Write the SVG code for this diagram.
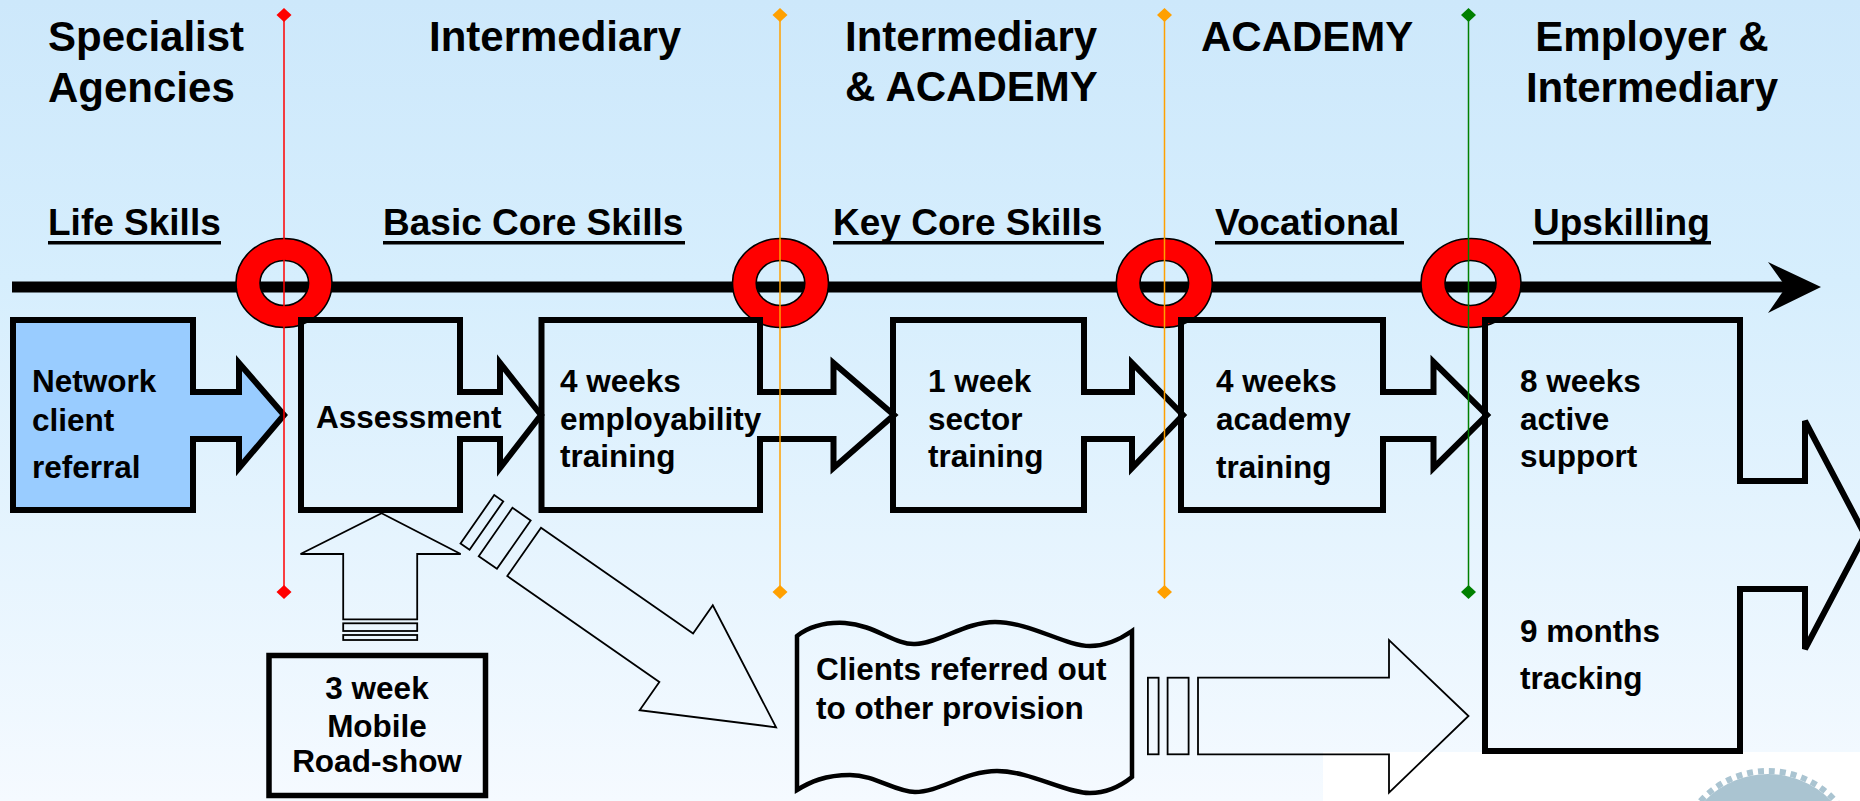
<svg xmlns="http://www.w3.org/2000/svg" width="1860" height="801" viewBox="0 0 1860 801">
<defs>
<linearGradient id="bg" x1="0" y1="0" x2="0" y2="801" gradientUnits="userSpaceOnUse">
<stop offset="0" stop-color="#cde8fb"/>
<stop offset="0.35" stop-color="#d6eefd"/>
<stop offset="1" stop-color="#f5faff"/>
</linearGradient>
<style>
.hd{font-family:"Liberation Sans",Arial,sans-serif;font-weight:bold;font-size:42px;fill:#000}
.sub{font-family:"Liberation Sans",Arial,sans-serif;font-weight:bold;font-size:37px;fill:#000}
.bx{font-family:"Liberation Sans",Arial,sans-serif;font-weight:bold;font-size:31.5px;fill:#000}
.box{fill:none;stroke:#000;stroke-width:6;stroke-linejoin:miter}
.thin{fill:none;stroke:#000;stroke-width:1.8;stroke-linejoin:miter}
.ring{fill:#ff0000;fill-rule:evenodd;stroke:#000;stroke-width:1.6}
.ul{fill:#000}
</style>
</defs>
<rect x="0" y="0" width="1860" height="801" fill="url(#bg)"/>
<rect x="1323" y="752" width="537" height="49" fill="#ffffff"/>
<g id="logo-fragment">
<circle cx="1768" cy="862" r="88" fill="#aac4d1"/>
<circle cx="1768" cy="862" r="91" fill="none" stroke="#aac4d1" stroke-width="6" stroke-dasharray="6 5"/>
</g>

<g id="headers">
<text class="hd" x="48" y="51">Specialist</text>
<text class="hd" x="48" y="102">Agencies</text>
<text class="hd" x="429" y="51">Intermediary</text>
<text class="hd" x="845" y="51">Intermediary</text>
<text class="hd" x="845" y="101">&amp; ACADEMY</text>
<text class="hd" x="1201" y="51">ACADEMY</text>
<text class="hd" x="1652" y="51" text-anchor="middle">Employer &amp;</text>
<text class="hd" x="1652" y="102" text-anchor="middle">Intermediary</text>
</g>

<g id="stages">
<text class="sub" x="48" y="235">Life Skills</text>
<rect class="ul" x="48" y="241" width="173" height="3.5"/>
<text class="sub" x="383" y="235">Basic Core Skills</text>
<rect class="ul" x="383" y="241" width="302" height="3.5"/>
<text class="sub" x="833" y="235">Key Core Skills</text>
<rect class="ul" x="833" y="241" width="271" height="3.5"/>
<text class="sub" x="1215" y="235">Vocational</text>
<rect class="ul" x="1215" y="241" width="189" height="3.5"/>
<text class="sub" x="1533" y="235">Upskilling</text>
<rect class="ul" x="1533" y="241" width="178" height="3.5"/>
</g>

<g id="timeline">
<line x1="12" y1="287" x2="1790" y2="287" stroke="#000" stroke-width="11"/>
<polygon points="1768,262 1821,287 1768,313 1786,287" fill="#000"/>
</g>

<g id="rings">
<path class="ring" d="M236,283 a48,44.5 0 1,0 96,0 a48,44.5 0 1,0 -96,0 Z M260,283 a24.3,22.5 0 1,0 48.6,0 a24.3,22.5 0 1,0 -48.6,0 Z"/>
<path class="ring" d="M732.5,283 a48,44.5 0 1,0 96,0 a48,44.5 0 1,0 -96,0 Z M756.2,283 a24.3,22.5 0 1,0 48.6,0 a24.3,22.5 0 1,0 -48.6,0 Z"/>
<path class="ring" d="M1116.3,283 a48,44.5 0 1,0 96,0 a48,44.5 0 1,0 -96,0 Z M1140,283 a24.3,22.5 0 1,0 48.6,0 a24.3,22.5 0 1,0 -48.6,0 Z"/>
<path class="ring" d="M1421,283 a50,44.5 0 1,0 100,0 a50,44.5 0 1,0 -100,0 Z M1445,283 a25.5,22.5 0 1,0 51,0 a25.5,22.5 0 1,0 -51,0 Z"/>
</g>

<g id="connectors">
<g id="arrow-roadshow">
<polygon class="thin" points="381.6,513.3 460.7,554 417.2,554 417.2,619.3 343.2,619.3 343.2,554 300.5,554"/>
<rect class="thin" x="343.2" y="623.3" width="74" height="7.7"/>
<rect class="thin" x="343.2" y="635" width="74" height="5"/>
</g>
<g id="arrow-referred-out" transform="translate(524.15,551.85) rotate(34.85)">
<polygon class="thin" points="0,-29.5 185.3,-29.5 185.3,-64 307,0 185.3,64 185.3,29.5 0,29.5"/>
<rect class="thin" x="-34.8" y="-29.5" width="22.2" height="59"/>
<rect class="thin" x="-57" y="-29.5" width="11" height="59"/>
</g>
<g id="arrow-to-tracking">
<polygon class="thin" points="1198,677.7 1389,677.7 1389,640 1468.5,716 1389,792.7 1389,754.3 1198,754.3"/>
<rect class="thin" x="1167.6" y="677.7" width="21" height="76.6"/>
<rect class="thin" x="1147.9" y="677.7" width="10.7" height="76.6"/>
</g>
</g>

<g id="node-network">
<path class="box" fill="#99ccff" style="fill:#99ccff" d="M13,320 H193 V392 H239 V363 L284,415 L239,468 V439 H193 V510 H13 Z"/>
<text class="bx" x="32" y="392">Network</text>
<text class="bx" x="32" y="431">client</text>
<text class="bx" x="32" y="478">referral</text>
</g>
<g id="node-assessment">
<path class="box" d="M301,320 H460 V392 H500 V363 L541,415 L500,468 V439 H460 V510 H301 Z"/>
<text class="bx" x="316" y="428">Assessment</text>
</g>
<g id="node-employability">
<path class="box" d="M541.5,320 H760 V392 H833.5 V363 L894,415 L833.5,468 V439 H760 V510 H541.5 Z"/>
<text class="bx" x="560" y="392">4 weeks</text>
<text class="bx" x="560" y="430">employability</text>
<text class="bx" x="560" y="467">training</text>
</g>
<g id="node-sector">
<path class="box" d="M893,320 H1084 V392 H1132 V363 L1183,415 L1132,468 V439 H1084 V510 H893 Z"/>
<text class="bx" x="928" y="392">1 week</text>
<text class="bx" x="928" y="430">sector</text>
<text class="bx" x="928" y="467">training</text>
</g>
<g id="node-academy">
<path class="box" d="M1181,320 H1383 V392 H1433.5 V362 L1487,415 L1433.5,468 V439 H1383 V510 H1181 Z"/>
<text class="bx" x="1216" y="392">4 weeks</text>
<text class="bx" x="1216" y="430">academy</text>
<text class="bx" x="1216" y="478">training</text>
</g>
<g id="node-support">
<path class="box" d="M1485,320 H1740 V481 H1805 V421 L1865,535 L1805,649 V589 H1740 V751 H1485 Z"/>
<text class="bx" x="1520" y="392">8 weeks</text>
<text class="bx" x="1520" y="430">active</text>
<text class="bx" x="1520" y="467">support</text>
<text class="bx" x="1520" y="642">9 months</text>
<text class="bx" x="1520" y="689">tracking</text>
</g>
<g id="node-roadshow">
<rect class="box" x="269" y="655.5" width="216.5" height="140" style="stroke-width:5.5"/>
<text class="bx" x="377" y="699" text-anchor="middle">3 week</text>
<text class="bx" x="377" y="737" text-anchor="middle">Mobile</text>
<text class="bx" x="377" y="772" text-anchor="middle">Road-show</text>
</g>
<g id="node-referred">
<path class="box" style="stroke-width:4.5" d="M797,636 C810,626 825,622 845,623 C875,625 895,645 915,644 C940,643 965,622 995,622 C1030,622 1065,646 1090,646 C1108,646 1122,638 1132,631 V777 C1122,785 1108,793 1090,793 C1065,793 1030,771 997,771 C965,771 940,792 915,792 C895,792 875,775 850,775 C825,775 810,782 797,790 Z"/>
<text class="bx" x="816" y="680">Clients referred out</text>
<text class="bx" x="816" y="719">to other provision</text>
</g>

<g id="gates">
<g stroke-width="1.5">
<line x1="284" y1="15" x2="284" y2="592" stroke="#ff0000"/>
<line x1="780" y1="15" x2="780" y2="592" stroke="#ffa000"/>
<line x1="1164.5" y1="15" x2="1164.5" y2="592" stroke="#ffa000"/>
<line x1="1468.5" y1="15" x2="1468.5" y2="592" stroke="#008000"/>
</g>
<polygon points="284,8 291.5,15 284,22 276.5,15" fill="#ff0000"/>
<polygon points="284,585 291.5,592 284,599 276.5,592" fill="#ff0000"/>
<polygon points="780,8 787.5,15 780,22 772.5,15" fill="#ffa000"/>
<polygon points="780,585 787.5,592 780,599 772.5,592" fill="#ffa000"/>
<polygon points="1164.5,8 1172,15 1164.5,22 1157,15" fill="#ffa000"/>
<polygon points="1164.5,585 1172,592 1164.5,599 1157,592" fill="#ffa000"/>
<polygon points="1468.5,8 1476,15 1468.5,22 1461,15" fill="#008000"/>
<polygon points="1468.5,585 1476,592 1468.5,599 1461,592" fill="#008000"/>
</g>
</svg>
